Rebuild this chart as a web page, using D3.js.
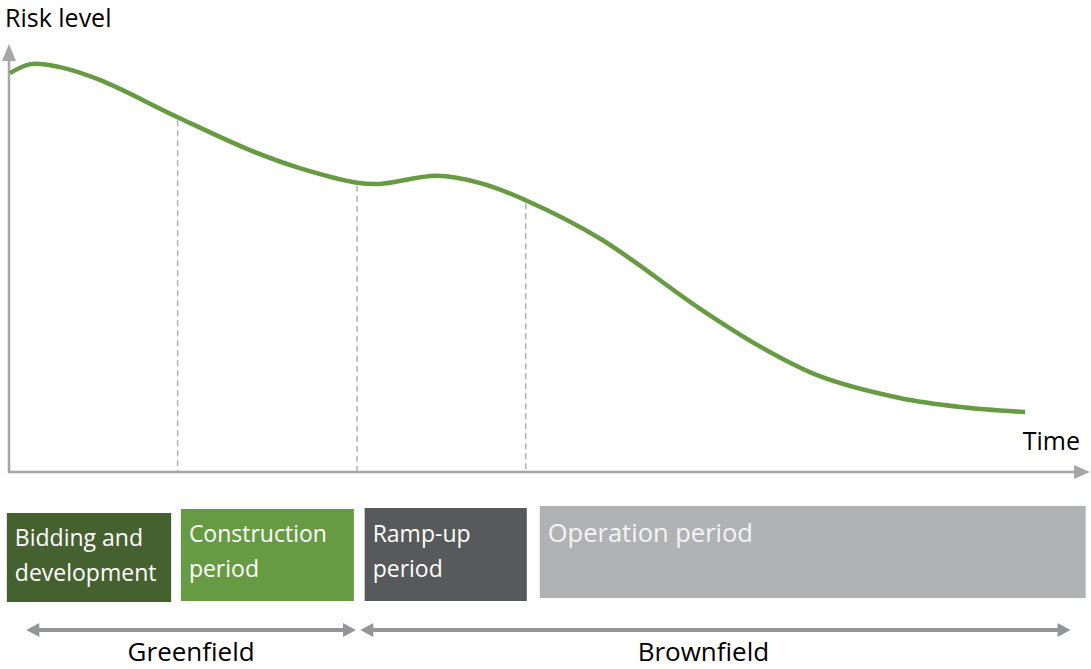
<!DOCTYPE html>
<html>
<head>
<meta charset="utf-8">
<script src="https://cdn.jsdelivr.net/npm/d3@7"></script>
<style>
  body { margin: 0; background: #fff; }
  svg { display: block; font-family: "Open Sans", "Noto Sans", sans-serif; }
</style>
</head>
<body>
<svg id="chart" width="1091" height="669"></svg>
<script>

// risk curve, time and risk in 0-100 units
var curveTime = [0.1, 2, 4.7, 8.4, 15.6, 22.3, 26.9, 32.2, 34.3, 39.6, 43.6, 47.8, 54.7, 63.9, 69.5, 75, 82.4, 88, 94];
var curveRisk = [93.2, 95.3, 94.6, 91.6, 82.9, 75.2, 71, 67.6, 67.3, 69.2, 67.5, 63.5, 54.5, 38.2, 29.3, 22.4, 17.3, 15.2, 14];

// phase boundaries (dashed lines)
var boundaryTime = [15.6, 32.2, 47.8];

// phase boxes
var phaseNames = [['Bidding and', 'development'], ['Construction', 'period'], ['Ramp-up', 'period'], ['Operation period']];
var phaseStart = [-0.2, 15.9, 32.9, 49.1];
var phaseEnd = [15.0, 31.9, 47.9, 99.6];
var phaseColors = ['#466130', '#679b43', '#58595b', '#b1b2b4'];

// greenfield / brownfield
var spanNames = ['Greenfield', 'Brownfield'];
var spanStart = [1.6, 32.5];
var spanEnd = [32.1, 98.2];

var svg = d3.select('#chart');

var x = d3.scaleLinear().domain([0, 100]).range([9, 1090]);
var y = d3.scaleLinear().domain([0, 100]).range([472, 44]);

var axisColor = '#a6a6a6';

//---------------------------------------------------------------
// axes
//---------------------------------------------------------------
svg.append('line')
    .attr('x1', x(0)).attr('x2', x(0))
    .attr('y1', y(0) + 1).attr('y2', y(100) + 12)
    .attr('stroke', axisColor).attr('stroke-width', 2.5);
svg.append('path')
    .attr('d', 'M' + x(0) + ',' + y(100) + ' l-7,17 l14,0 z')
    .attr('fill', axisColor);

svg.append('line')
    .attr('x1', x(0) - 1).attr('x2', x(100) - 12)
    .attr('y1', y(0)).attr('y2', y(0))
    .attr('stroke', axisColor).attr('stroke-width', 2.5);
svg.append('path')
    .attr('d', 'M' + x(100) + ',' + y(0) + ' l-16,-7 l0,14 z')
    .attr('fill', axisColor);

svg.append('text')
    .attr('x', 5).attr('y', 27)
    .style('font-size', '25px').style('fill', '#000')
    .text('Risk level');

svg.append('text')
    .attr('x', 1080).attr('y', 450)
    .style('font-size', '25px').style('fill', '#000')
    .style('text-anchor', 'end')
    .text('Time');

//---------------------------------------------------------------
// curve + dashed boundaries
//---------------------------------------------------------------
var curvePoints = curveTime.map(function (t, i) { return [t, curveRisk[i]]; });

var line = d3.line()
    .x(function (d) { return x(d[0]); })
    .y(function (d) { return y(d[1]); })
    .curve(d3.curveCatmullRom.alpha(0.5));

var curvePath = svg.append('path')
    .datum(curvePoints)
    .attr('d', line)
    .attr('fill', 'none')
    .attr('stroke', '#679b43')
    .attr('stroke-width', 4.5)
    .attr('stroke-linecap', 'butt');

// find curve height at a given x by walking the path
var pathNode = curvePath.node();
var pathLen = pathNode.getTotalLength();
function curveYAt(px) {
    var lo = 0, hi = pathLen;
    for (var k = 0; k < 40; k++) {
        var mid = (lo + hi) / 2;
        if (pathNode.getPointAtLength(mid).x < px) lo = mid; else hi = mid;
    }
    return pathNode.getPointAtLength(lo).y;
}

svg.selectAll('.boundary')
    .data(boundaryTime)
  .enter().append('line')
    .attr('class', 'boundary')
    .attr('x1', function (d) { return x(d); })
    .attr('x2', function (d) { return x(d); })
    .attr('y1', function (d) { return curveYAt(x(d)) + 3; })
    .attr('y2', y(0) - 1)
    .attr('stroke', '#b0b0b0')
    .attr('stroke-width', 1.5)
    .attr('stroke-dasharray', '6,4');

// bring curve on top
curvePath.raise();

//---------------------------------------------------------------
// phase boxes
//---------------------------------------------------------------
var boxTop = [513, 509, 508, 506];
var boxBottom = [602, 601, 601, 598];
var boxFont = [23, 23, 23, 25.5];

var phases = svg.selectAll('.phase')
    .data(phaseNames)
  .enter().append('g')
    .attr('class', 'phase');

phases.append('rect')
    .attr('x', function (d, i) { return x(phaseStart[i]); })
    .attr('y', function (d, i) { return boxTop[i]; })
    .attr('width', function (d, i) { return x(phaseEnd[i]) - x(phaseStart[i]); })
    .attr('height', function (d, i) { return boxBottom[i] - boxTop[i]; })
    .style('fill', function (d, i) { return phaseColors[i]; });

var firstBaseline = [546, 542, 542, 542];
phases.append('text')
    .attr('x', function (d, i) { return x(phaseStart[i]) + 8; })
    .attr('y', function (d, i) { return firstBaseline[i]; })
    .style('font-size', function (d, i) { return boxFont[i] + 'px'; })
    .style('fill', function (d, i) { return i === 3 ? '#f4f4f4' : '#fff'; })
  .selectAll('tspan')
    .data(function (d) { return d; })
  .enter().append('tspan')
    .attr('x', function () { return this.parentNode.getAttribute('x'); })
    .attr('dy', function (d, j) { return j === 0 ? 0 : 34.5; })
    .text(function (d) { return d; });

//---------------------------------------------------------------
// greenfield / brownfield arrows
//---------------------------------------------------------------
var arrowColor = '#939598';
var arrowY = 630;

spanNames.forEach(function (name, i) {
    var x1 = x(spanStart[i]), x2 = x(spanEnd[i]);
    svg.append('line')
        .attr('x1', x1 + 10).attr('x2', x2 - 10)
        .attr('y1', arrowY).attr('y2', arrowY)
        .attr('stroke', arrowColor).attr('stroke-width', 4);
    svg.append('path')
        .attr('d', 'M' + x1 + ',' + arrowY + ' l13,-7 l0,14 z')
        .attr('fill', arrowColor);
    svg.append('path')
        .attr('d', 'M' + x2 + ',' + arrowY + ' l-13,-7 l0,14 z')
        .attr('fill', arrowColor);
    svg.append('text')
        .attr('x', (x1 + x2) / 2 + (i === 0 ? 0 : -12))
        .attr('y', 661)
        .style('font-size', '26px')
        .style('text-anchor', 'middle')
        .style('fill', '#000')
        .text(name);
});

</script>
</body>
</html>
